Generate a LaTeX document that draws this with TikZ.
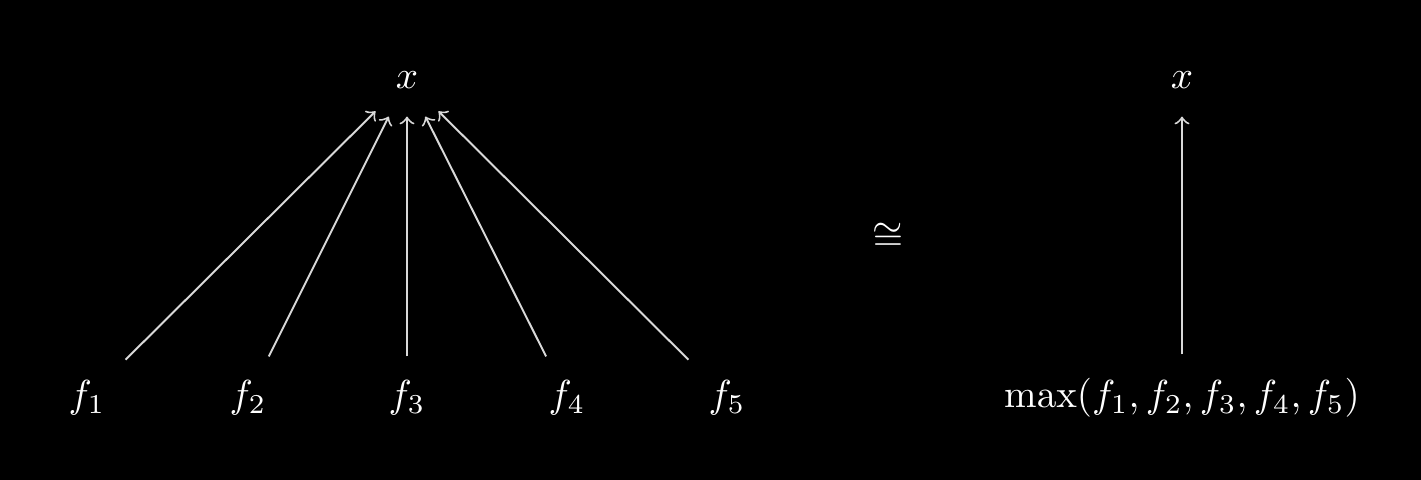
\documentclass[tikz,border=0pt]{standalone}
\usepackage{pgf, tikz}
\tikzset{obj/.style={text=white, inner xsep=5pt, inner ysep=6pt},
    arr/.style={
    ->,
    draw=white!85!black,
    line width=0.5pt,
    },
}
\begin{document}
\begin{tikzpicture}[x=0.009cm, y=-0.009cm]
\fill[black] (0,0) rectangle (1421,480); % background
\node[obj, inner ysep=7pt] (x) at (407,80) {$x$}; % target
\foreach \i/\px in {1/87, 2/248, 3/407, 4/567, 5/727} {
\node[obj] (f\i) at (\px,398) {$f_\i$}; % source
\draw[arr] (f\i) -- (x);
}
\node[obj] (iso) at (888,237) {$\cong$};
\node[obj, inner ysep=7pt] (y) at (1182,80) {$x$}; % target
\node[obj] (m) at (1182,398) {$\max(f_1, f_2, f_3, f_4, f_5)$};
\draw[arr] (m) -- (y);
\end{tikzpicture}
\end{document}
